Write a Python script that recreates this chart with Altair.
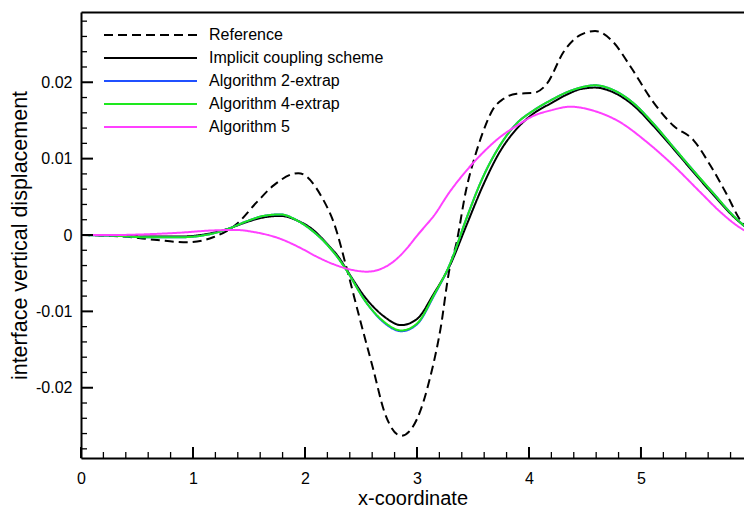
import altair as alt
import pandas as pd

series = ["Reference", "Implicit coupling scheme", "Algorithm 2-extrap",
          "Algorithm 4-extrap", "Algorithm 5"]
colors = ["#000000", "#000000", "#2050ff", "#1ee81e", "#ff40ff"]
dashes = [[9, 5], [1, 0], [1, 0], [1, 0], [1, 0]]

ref_x = [0, 0.38, 0.68, 0.95, 1.18, 1.39, 1.57, 1.72, 1.94, 2.16, 2.26, 2.375,
         2.49, 2.61, 2.71, 2.86, 3.0, 3.12, 3.21, 3.29, 3.35, 3.44, 3.52, 3.59,
         3.68, 3.77, 3.89, 4.04, 4.16, 4.31, 4.46, 4.59, 4.75, 4.90, 5.11, 5.29,
         5.47, 5.62, 5.77, 5.88, 5.99]
ref_y = [0, -0.0002, -0.00066, -0.00096, -0.0003, 0.00144, 0.0043, 0.0065,
         0.0081, 0.0047, 0.0015, -0.0045, -0.011, -0.0176, -0.0232, -0.0263,
         -0.0241, -0.0185, -0.0123, -0.0045, -0.0012, 0.006, 0.0104, 0.0135,
         0.0165, 0.0178, 0.0185, 0.0186, 0.0198, 0.024, 0.0262, 0.0267, 0.0253,
         0.0222, 0.0174, 0.0143, 0.0124, 0.0091, 0.0052, 0.0021, 0.0004]

imp_x = [0, 0.3, 0.59, 0.88, 1.18, 1.33, 1.48, 1.63, 1.78, 1.93, 2.07, 2.2,
         2.31, 2.37, 2.55, 2.70, 2.86, 3.0, 3.15, 3.3, 3.44, 3.59, 3.74, 3.89,
         4.04, 4.19, 4.34, 4.46, 4.59, 4.75, 4.93, 5.11, 5.29, 5.47, 5.65, 5.82,
         5.97]
imp_y = [0, -0.00005, -0.0002, -0.0002, 0.0003, 0.0009, 0.0017, 0.0023, 0.0025,
         0.0019, 0.0007, -0.0012, -0.0031, -0.0045, -0.0084, -0.0106, -0.0118,
         -0.011, -0.0077, -0.0038, 0.0012, 0.0065, 0.0109, 0.0139, 0.0159,
         0.0172, 0.0184, 0.0191, 0.0193, 0.0187, 0.017, 0.0143, 0.0113, 0.0082,
         0.0052, 0.0025, 0.0006]

a2_x = imp_x
a2_y = [0, -0.0001, -0.0003, -0.0003, 0.0002, 0.0009, 0.0018, 0.0025, 0.0027,
        0.0019, 0.0005, -0.0013, -0.0033, -0.0046, -0.0089, -0.0114, -0.0126,
        -0.0117, -0.008, -0.0036, 0.0021, 0.0076, 0.0117, 0.0146, 0.0163,
        0.0176, 0.0187, 0.0193, 0.0196, 0.019, 0.0173, 0.0146, 0.0115, 0.0084,
        0.0054, 0.0026, 0.0006]

a4_x = imp_x
a4_y = [0, -0.0001, -0.0003, -0.0003, 0.0002, 0.0009, 0.0018, 0.0025, 0.0027,
        0.0019, 0.0005, -0.0013, -0.0033, -0.0046, -0.0089, -0.0113, -0.0125,
        -0.0116, -0.0079, -0.0036, 0.0021, 0.0076, 0.0117, 0.0146, 0.0163,
        0.0176, 0.0187, 0.0193, 0.0196, 0.019, 0.0173, 0.0146, 0.0115, 0.0084,
        0.0054, 0.0026, 0.0006]

a5_x = [0, 0.3, 0.59, 0.88, 1.18, 1.39, 1.54, 1.78, 1.96, 2.1, 2.25, 2.4, 2.55,
        2.62, 2.70, 2.78, 2.85, 2.93, 3.0, 3.07, 3.15, 3.29, 3.44, 3.59, 3.74,
        3.89, 4.04, 4.19, 4.37, 4.57, 4.81, 5.05, 5.29, 5.53, 5.71, 5.88, 5.99]
a5_y = [0, 0.0, 0.0001, 0.0003, 0.0006, 0.00066, 0.0004, -0.0005, -0.0017,
        -0.0028, -0.0038, -0.0045, -0.0048, -0.0047, -0.0043, -0.0036, -0.0027,
        -0.0014, -0.0001, 0.0011, 0.0025, 0.0056, 0.0084, 0.0108, 0.0128,
        0.0143, 0.0156, 0.0163, 0.0168, 0.0163, 0.0148, 0.0122, 0.0091, 0.0056,
        0.003, 0.001, 0.0001]

x_major = [0, 1, 2, 3, 4, 5]
x_minor = [0.2, 0.4, 0.6, 0.8, 1.2, 1.4, 1.6, 1.8, 2.2, 2.4, 2.6, 2.8, 3.2, 3.4,
           3.6, 3.8, 4.2, 4.4, 4.6, 4.8, 5.2, 5.4, 5.6, 5.8]
y_major = [-0.02, -0.01, 0, 0.01, 0.02]
y_minor = [-0.028, -0.026, -0.024, -0.022, -0.018, -0.016, -0.014, -0.012,
           -0.008, -0.006, -0.004, -0.002, 0.002, 0.004, 0.006, 0.008, 0.012,
           0.014, 0.016, 0.018, 0.022, 0.024, 0.026, 0.028]

X_DOMAIN = [0, 5.92]
Y_DOMAIN = [-0.0292, 0.0292]
W, H = 663, 446
FONT = "Liberation Sans"

rows = []
for name, xs, ys in zip(series, [ref_x, imp_x, a2_x, a4_x, a5_x],
                        [ref_y, imp_y, a2_y, a4_y, a5_y]):
    for a, b in zip(xs, ys):
        rows.append({"series": name, "x": a, "y": b})
df = pd.DataFrame(rows)

xscale = alt.Scale(domain=X_DOMAIN, nice=False, zero=False)
yscale = alt.Scale(domain=Y_DOMAIN, nice=False, zero=False)

legend = alt.Legend(
    title=None, orient="none", legendX=22, legendY=14.5, symbolType="stroke",
    symbolSize=8649, symbolStrokeWidth=2, labelFontSize=16, labelFont=FONT,
    labelColor="black", labelOffset=11, labelLimit=400, clipHeight=17,
    rowPadding=6, padding=0,
)

x_axis = alt.Axis(
    values=x_major, ticks=False, tickSize=0, labelFlush=False,
    labelFontSize=16, labelFont=FONT, labelColor="black", labelPadding=12,
    domainColor="black", domainWidth=2, grid=False,
    title="x-coordinate", titleFontSize=20, titleFont=FONT,
    titleFontWeight="normal", titleColor="black", titlePadding=2)

y_axis = alt.Axis(
    values=y_major, ticks=False, tickSize=0, labelFlush=False,
    labelExpr="datum.value == 0 ? '0' : (datum.value < 0 ? '-' + format(-datum.value, '.2f') : format(datum.value, '.2f'))",
    labelFontSize=16, labelFont=FONT, labelColor="black", labelPadding=9,
    domainColor="black", domainWidth=2, grid=False,
    title="interface vertical displacement", titleFontSize=21.5, titleFont=FONT,
    titleFontWeight="normal", titleColor="black", titlePadding=4)

lines = alt.Chart(df).mark_line(strokeWidth=2, interpolate="monotone", clip=True).encode(
    x=alt.X("x:Q", scale=xscale, axis=x_axis),
    y=alt.Y("y:Q", scale=yscale, axis=y_axis),
    color=alt.Color("series:N", scale=alt.Scale(domain=series, range=colors), legend=legend),
    strokeDash=alt.StrokeDash("series:N", scale=alt.Scale(domain=series, range=dashes), legend=legend),
    detail="series:N",
)

xmaj = alt.Chart(pd.DataFrame({"t": x_major})).mark_rule(color="black", strokeWidth=2).encode(
    x=alt.X("t:Q", scale=xscale, axis=alt.Axis(orient="top", labels=False, ticks=False,
                                                 title=None, grid=False, domainColor="black",
                                                 domainWidth=2)),
    y=alt.value(H), y2=alt.value(H - 11))
xmin = alt.Chart(pd.DataFrame({"t": x_minor})).mark_rule(color="black", strokeWidth=1.3).encode(
    x=alt.X("t:Q", scale=xscale, axis=None), y=alt.value(H), y2=alt.value(H - 6))
ymaj = alt.Chart(pd.DataFrame({"t": y_major})).mark_rule(color="black", strokeWidth=2).encode(
    y=alt.Y("t:Q", scale=yscale, axis=y_axis), x=alt.value(0), x2=alt.value(12))
ymin = alt.Chart(pd.DataFrame({"t": y_minor})).mark_rule(color="black", strokeWidth=1.3).encode(
    y=alt.Y("t:Q", scale=yscale, axis=y_axis), x=alt.value(0), x2=alt.value(6))

chart = alt.layer(lines, xmaj, xmin, ymaj, ymin).resolve_axis(x="independent").properties(
    width=W, height=H, autosize="none",
    padding={"left": 73, "top": 4, "right": 0, "bottom": 50},
).configure_view(stroke=None).configure(background="white")

chart.save("out.html", embed_options={"renderer": "svg", "actions": False})
